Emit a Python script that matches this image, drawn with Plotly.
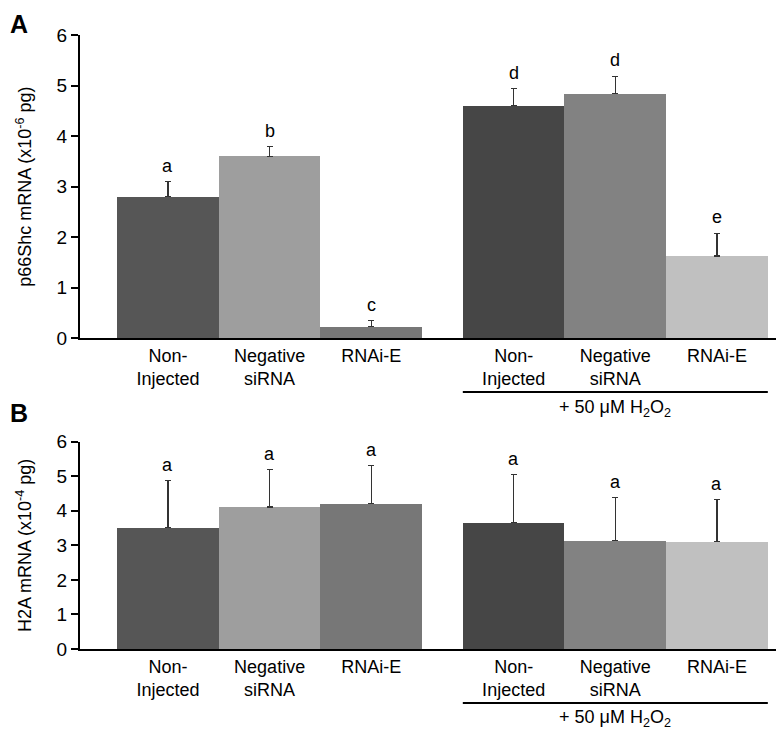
import plotly.graph_objects as go

# categories and values
labels = ["Non-<br>Injected", "Negative<br>siRNA", "RNAi-E",
          "Non-<br>Injected", "Negative<br>siRNA", "RNAi-E"]
colors = ["#565656", "#9e9e9e", "#777777", "#464646", "#828282", "#c0c0c0"]

p66_mean = [2.80, 3.60, 0.23, 4.60, 4.84, 1.63]
p66_err = [0.30, 0.19, 0.12, 0.34, 0.34, 0.45]
p66_letters = ["a", "b", "c", "d", "d", "e"]

h2a_mean = [3.52, 4.11, 4.21, 3.66, 3.14, 3.11]
h2a_err = [1.35, 1.08, 1.09, 1.38, 1.24, 1.21]
h2a_letters = ["a", "a", "a", "a", "a", "a"]

# bar slots: two groups of three with a gap between them
xpos = [0, 1, 2, 3.4, 4.4, 5.4]
xrange = [-0.865, 6.0]

FONT = "Arial, Liberation Sans, sans-serif"

fig = go.Figure()

def add_panel(means, errs, xa, ya):
    fig.add_trace(go.Bar(
        x=xpos, y=means, width=1.0, marker_color=colors, marker_line_width=0,
        error_y=dict(type="data", symmetric=False, array=errs,
                     arrayminus=[0] * len(errs), color="#333333",
                     thickness=1.2, width=3),
        xaxis=xa, yaxis=ya, showlegend=False,
    ))

add_panel(p66_mean, p66_err, "x", "y")
add_panel(h2a_mean, h2a_err, "x2", "y2")

annotations = []
for xa, ya, means, errs, letters in [("x", "y", p66_mean, p66_err, p66_letters),
                                     ("x2", "y2", h2a_mean, h2a_err, h2a_letters)]:
    for xp, m, e, t in zip(xpos, means, errs, letters):
        annotations.append(dict(x=xp, y=m + e, xref=xa, yref=ya, text=t,
                                showarrow=False, yanchor="bottom", yshift=4,
                                font=dict(size=18, color="black")))

# panel letters
annotations.append(dict(x=-0.1032, y=1.044, xref="paper", yref="paper", text="<b>A</b>",
                        showarrow=False, xanchor="left", yanchor="top",
                        font=dict(size=25, color="black")))
annotations.append(dict(x=-0.1032, y=0.3844, xref="paper", yref="paper", text="<b>B</b>",
                        showarrow=False, xanchor="left", yanchor="middle",
                        font=dict(size=25, color="black")))

# treatment label below the second group
shapes = []
for xa, yline, ytext in [("x", 0.4186, 0.3925), ("x2", -0.088, -0.114)]:
    shapes.append(dict(type="line", xref=xa, yref="paper",
                       x0=xpos[3] - 0.5, x1=xpos[5] + 0.5, y0=yline, y1=yline,
                       line=dict(color="black", width=2)))
    annotations.append(dict(x=xpos[4], y=ytext, xref=xa, yref="paper",
                            text="+ 50 \u03bcM H<sub>2</sub>O<sub>2</sub>",
                            showarrow=False, yanchor="middle",
                            font=dict(size=18, color="black")))

xaxis_common = dict(range=xrange, tickvals=xpos, ticktext=labels,
                    showline=True, linecolor="black", linewidth=2,
                    ticks="", showgrid=False, zeroline=False,
                    tickfont=dict(size=18, color="black"), automargin=False)
yaxis_common = dict(range=[0, 6], dtick=1, showline=True, linecolor="black",
                    linewidth=2, ticks="outside", ticklen=7, tickwidth=2,
                    tickcolor="black", showgrid=False, zeroline=False,
                    tickfont=dict(size=19, color="black"), automargin=False)

# page body adds an 8px margin, so the figure is drawn 8px smaller
fig.update_layout(
    width=776, height=727,
    margin=dict(l=72, r=6, t=27, b=86),
    paper_bgcolor="white", plot_bgcolor="white",
    font=dict(family=FONT, color="black"),
    bargap=0,
    xaxis=dict(xaxis_common, anchor="y"),
    yaxis=dict(yaxis_common, domain=[0.506, 1.0], anchor="x",
               title=dict(text="p66Shc mRNA (x10<sup>-6</sup> pg)",
                          font=dict(size=18), standoff=20)),
    xaxis2=dict(xaxis_common, anchor="y2"),
    yaxis2=dict(yaxis_common, domain=[0.0, 0.3376], anchor="x2",
                title=dict(text="H2A mRNA (x10<sup>-4</sup> pg)",
                           font=dict(size=18), standoff=20)),
    annotations=annotations,
    shapes=shapes,
)

fig.write_html("out.html")
